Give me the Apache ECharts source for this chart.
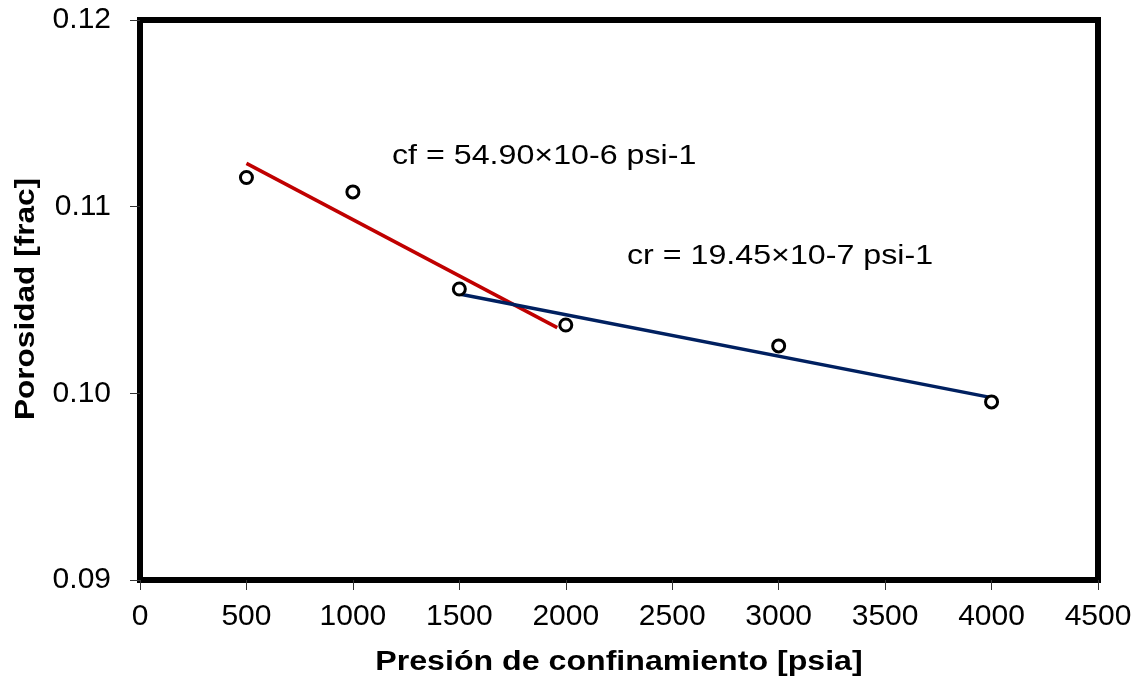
<!DOCTYPE html>
<html><head><meta charset="utf-8">
<script src="https://cdn.jsdelivr.net/npm/echarts@6/dist/echarts.min.js"></script>
<style>html,body{margin:0;padding:0;background:#fff}#c{width:1141px;height:683px}</style>
</head><body><div id="c"></div>
<script>
// Measured points
const pressure = [500, 1000, 1500, 2000, 3000, 4000];
const porosity = [0.11156, 0.11079, 0.10559, 0.10366, 0.10254, 0.09954];
// Fitted trend lines (endpoints)
const cfLineX = [500, 1960];
const cfLineY = [0.11232, 0.10352];
const crLineX = [1500, 4000];
const crLineY = [0.10532, 0.09977];
// Axis ticks
const xTicks = [0, 500, 1000, 1500, 2000, 2500, 3000, 3500, 4000, 4500];
const yTicks = [0.09, 0.10, 0.11, 0.12];
// Texts
const xTitle = 'Presión de confinamiento [psia]';
const yTitle = 'Porosidad [frac]';
const cfText = 'cf = 54.90×10-6 psi-1';
const crText = 'cr = 19.45×10-7 psi-1';

const FONT = '"Liberation Sans", Arial, sans-serif';
const chart = echarts.init(document.getElementById('c'), null, {renderer: 'canvas'});
const zip = (a, b) => a.map((v, i) => [v, b[i]]);

chart.setOption({
  animation: false,
  backgroundColor: '#fff',
  grid: {left: 140, right: 43, top: 20, bottom: 103, show: true,
         borderColor: '#000', borderWidth: 6, backgroundColor: 'transparent'},
  xAxis: {
    type: 'value', min: xTicks[0], max: xTicks[xTicks.length - 1], interval: 500,
    axisLine: {show: true, lineStyle: {color: '#000', width: 6}},
    axisTick: {show: true, length: 10, lineStyle: {color: '#333', width: 1}},
    splitLine: {show: false},
    axisLabel: {margin: 22, fontSize: 30, fontFamily: FONT, color: '#000',
                formatter: v => String(v)}
  },
  yAxis: {
    type: 'value', min: yTicks[0], max: yTicks[yTicks.length - 1], interval: 0.01,
    axisLine: {show: true, lineStyle: {color: '#000', width: 6}},
    axisTick: {show: true, length: 10, lineStyle: {color: '#333', width: 1}},
    splitLine: {show: false},
    axisLabel: {margin: 29, fontSize: 30, fontFamily: FONT, color: '#000',
                formatter: v => v.toFixed(2)}
  },
  series: [
    {type: 'line', data: zip(cfLineX, cfLineY), symbol: 'none',
     lineStyle: {color: '#C00000', width: 3.5}, z: 2},
    {type: 'line', data: zip(crLineX, crLineY), symbol: 'none',
     lineStyle: {color: '#002060', width: 3.5}, z: 3},
    {type: 'scatter', data: zip(pressure, porosity), symbol: 'circle', symbolSize: 12,
     itemStyle: {color: '#fff', borderColor: '#000', borderWidth: 3, opacity: 1}, z: 5}
  ],
  graphic: [
    {type: 'text', x: 392, y: 156, scaleX: 1.15,
     style: {text: cfText, fontSize: 28, fontFamily: FONT, fill: '#000',
             align: 'left', verticalAlign: 'middle'}},
    {type: 'text', x: 627, y: 256, scaleX: 1.15,
     style: {text: crText, fontSize: 28, fontFamily: FONT, fill: '#000',
             align: 'left', verticalAlign: 'middle'}},
    {type: 'text', x: 619, y: 663, scaleX: 1.19,
     style: {text: xTitle, fontSize: 27, fontWeight: 'bold', fontFamily: FONT, fill: '#000',
             align: 'center', verticalAlign: 'middle'}},
    {type: 'text', x: 27, y: 299, rotation: Math.PI / 2, scaleX: 1.17,
     style: {text: yTitle, fontSize: 27, fontWeight: 'bold', fontFamily: FONT, fill: '#000',
             align: 'center', verticalAlign: 'middle'}}
  ]
});
</script></body></html>
